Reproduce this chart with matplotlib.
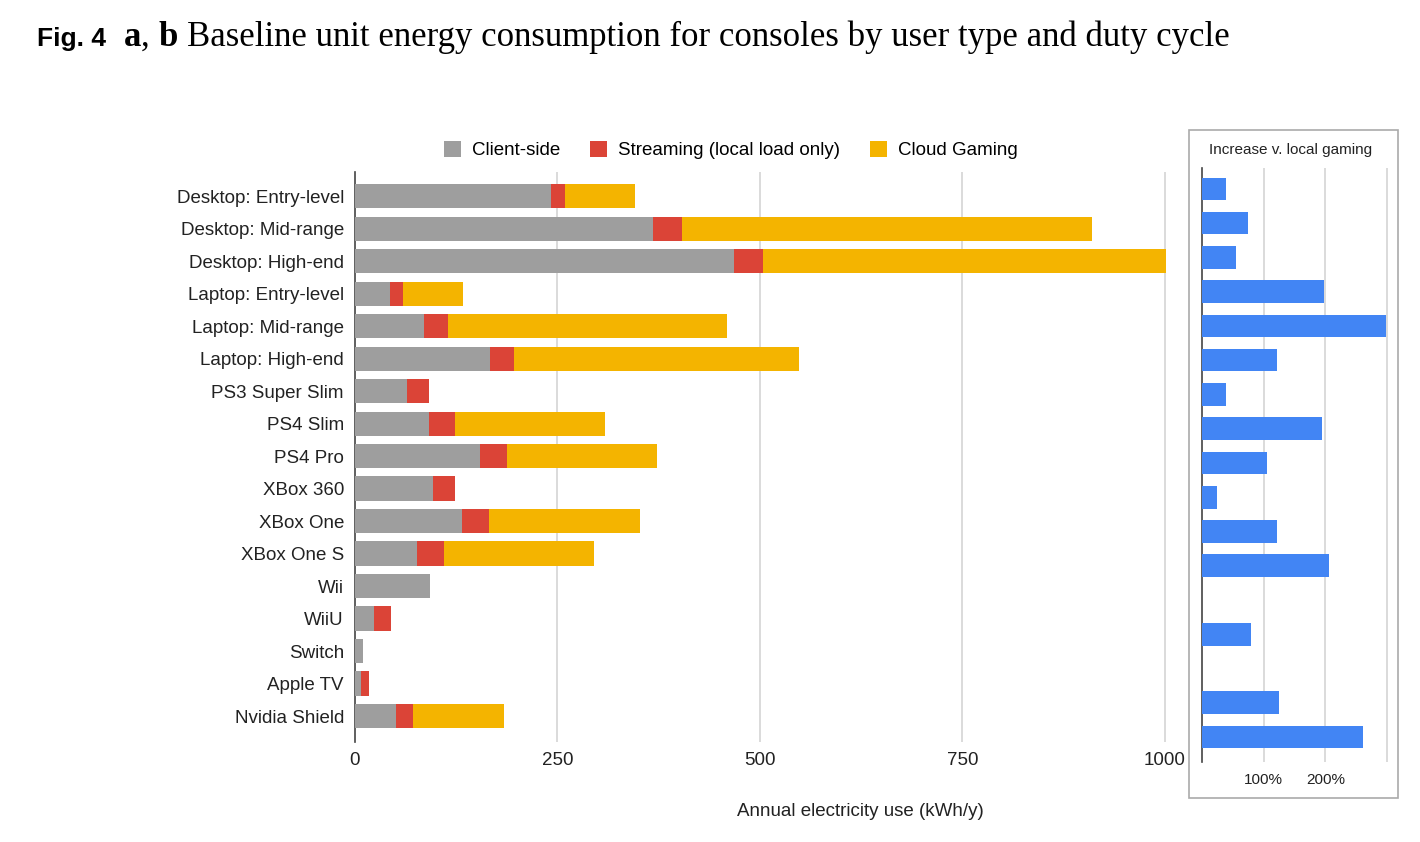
import matplotlib
matplotlib.use("Agg")
import matplotlib.pyplot as plt
from matplotlib.patches import Rectangle
import numpy as np

# data
devices = ["Desktop: Entry-level", "Desktop: Mid-range", "Desktop: High-end",
           "Laptop: Entry-level", "Laptop: Mid-range", "Laptop: High-end",
           "PS3 Super Slim", "PS4 Slim", "PS4 Pro", "XBox 360", "XBox One",
           "XBox One S", "Wii", "WiiU", "Switch", "Apple TV", "Nvidia Shield"]
client_side = [242, 368, 468, 43, 85, 167, 64, 91, 154, 96, 132, 77, 93, 23, 10, 7, 51]
streaming = [17, 36, 36, 16, 30, 29, 27, 32, 34, 27, 33, 33, 0, 22, 0, 10, 21]
cloud_gaming = [87, 506, 497, 74, 344, 352, 0, 186, 185, 0, 187, 185, 0, 0, 0, 0, 112]
increase_pct = [39, 75, 55, 198, 299, 122, 39, 195, 106, 24, 122, 206, 0, 80, 0, 125, 262]

GRAY = "#9e9e9e"
RED = "#db4437"
YELLOW = "#f4b400"
BLUE = "#4285f4"
GRID = "#d4d4d4"
TEXT = "#222222"

plt.rcParams['font.family'] = ['Liberation Sans', 'DejaVu Sans']

W, H = 1420, 842
fig = plt.figure(figsize=(W / 100, H / 100), dpi=100)


def fx(px):
    return px / W


def fy(py):
    return 1 - py / H


# ---- title
renderer = fig.canvas.get_renderer()
fig.text(fx(37), fy(46), "Fig. 4", ha="left", va="baseline", color="black",
         family="Liberation Sans", weight="bold", size=19)
pieces = [("a", dict(weight="bold")),
          (", ", {}),
          ("b", dict(weight="bold")),
          (" ", {}),
          ("Baseline unit energy consumption for consoles by user type and duty cycle", {})]
x = 124
for txt, kw in pieces:
    t = fig.text(fx(x), fy(46), txt, ha="left", va="baseline", color="black",
                 family="Liberation Serif", size=25, **kw)
    x += t.get_window_extent(renderer).width

# ---- main chart
ax = fig.add_axes([fx(355), fy(742), fx(1185) - fx(355), fy(172) - fy(742)])
y = np.arange(len(devices))
h = 0.74
left2 = np.array(client_side) + np.array(streaming)
ax.barh(y, client_side, height=h, color=GRAY, label="Client-side", zorder=3)
ax.barh(y, streaming, left=client_side, height=h, color=RED,
        label="Streaming (local load only)", zorder=3)
ax.barh(y, cloud_gaming, left=left2, height=h, color=YELLOW, label="Cloud Gaming", zorder=3)

ax.set_xlim(0, 1025)
ax.set_ylim(16.8, -0.74)
ax.set_yticks(y)
ax.set_yticklabels(devices, fontsize=13.5, color=TEXT)
ax.set_xticks([0, 250, 500, 750, 1000])
ax.set_xticklabels(["0", "250", "500", "750", "1000"], fontsize=13.5, color=TEXT)
ax.tick_params(axis="both", length=0)
ax.tick_params(axis="x", pad=7)
ax.tick_params(axis="y", pad=8)
for v in [250, 500, 750, 1000]:
    ax.axvline(v, color=GRID, lw=1.2, zorder=1)
for s in ["top", "right", "bottom"]:
    ax.spines[s].set_visible(False)
ax.spines["left"].set_color("#444444")
ax.spines["left"].set_linewidth(1.2)

ax.legend(loc="center", bbox_to_anchor=(0.453, 1.038), ncol=3, frameon=False,
          fontsize=13.5, handlelength=0.9, handleheight=0.9, handletextpad=0.6,
          columnspacing=1.6, borderaxespad=0)

fig.text(fx(860), fy(812), "Annual electricity use (kWh/y)", ha="center", va="center",
         fontsize=13.5, color=TEXT)

# ---- right panel
fig.patches.append(Rectangle((fx(1189), fy(798)), fx(1398) - fx(1189), fy(130) - fy(798),
                             transform=fig.transFigure, fill=False, edgecolor="#aaaaaa",
                             lw=1.2))
fig.text(fx(1291), fy(150), "Increase v. local gaming", ha="center", va="center",
         fontsize=11, color=TEXT)

ax2 = fig.add_axes([fx(1202), fy(762), fx(1390) - fx(1202), fy(168) - fy(762)])
y2 = np.arange(len(increase_pct))
ax2.barh(y2, increase_pct, height=0.66, color=BLUE, zorder=3)
ax2.set_xlim(0, 305)
ax2.set_ylim(16.73, -0.61)
ax2.set_yticks([])
ax2.set_xticks([100, 200])
ax2.set_xticklabels(["100%", "200%"], fontsize=11, color=TEXT)
ax2.tick_params(axis="x", length=0, pad=8)
for v in [100, 200, 300]:
    ax2.axvline(v, color=GRID, lw=1.2, zorder=1)
for s in ["top", "right", "bottom"]:
    ax2.spines[s].set_visible(False)
ax2.spines["left"].set_color("#444444")
ax2.spines["left"].set_linewidth(1.2)

fig.savefig("out.png", dpi=100)
